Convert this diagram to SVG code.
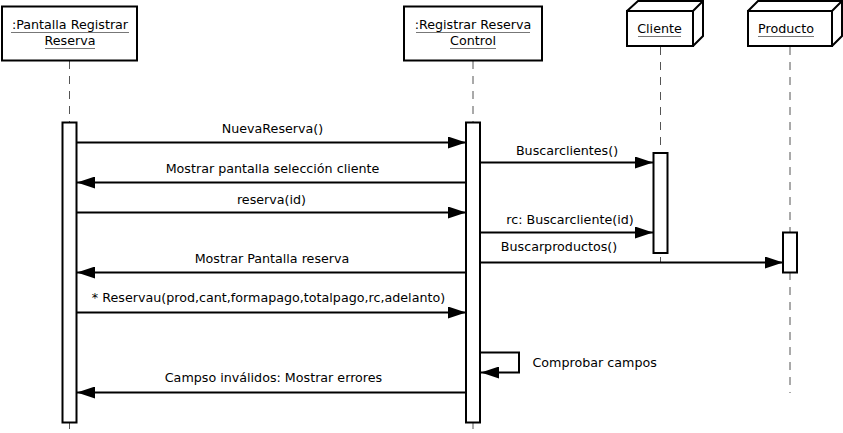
<svg xmlns="http://www.w3.org/2000/svg" width="843" height="433" viewBox="0 0 843 433">
<defs>
<marker id="arr" markerUnits="userSpaceOnUse" markerWidth="18" markerHeight="12" refX="18" refY="6" orient="auto">
<path d="M0,0 L18,6 L0,12 z" fill="#000"/>
</marker>
<style>
text{font-family:"DejaVu Sans","Liberation Sans",sans-serif;font-size:12.7px;fill:#000}
.c{text-anchor:middle}
.box{fill:#fff;stroke:#000;stroke-width:2}
.ul{stroke:#777;stroke-width:1}
.life{stroke:#555;stroke-width:1;stroke-dasharray:8 7;fill:none}
.act{fill:#fff;stroke:#000;stroke-width:2}
.msg{stroke:#000;stroke-width:2;fill:none;marker-end:url(#arr)}
</style>
</defs>
<rect width="843" height="433" fill="#fff"/>

<g id="lifelines">
<line class="life" x1="69.5" y1="61" x2="69.5" y2="433"/>
<line class="life" x1="473" y1="61" x2="473" y2="433"/>
<line class="life" x1="660.5" y1="47" x2="660.5" y2="262"/>
<line class="life" x1="790" y1="47" x2="790" y2="393"/>
</g>

<g id="pantalla">
<rect class="box" x="2" y="6.5" width="135" height="54"/>
<text class="c" x="70" y="29">:Pantalla Registrar</text>
<line class="ul" x1="11" y1="32.5" x2="129" y2="32.5"/>
<text class="c" x="70" y="45">Reserva</text>
<line class="ul" x1="45" y1="48.5" x2="95" y2="48.5"/>
<rect class="act" x="62.5" y="122.5" width="14" height="300"/>
</g>

<g id="control">
<rect class="box" x="404" y="6.5" width="138" height="54"/>
<text class="c" x="473" y="29">:Registrar Reserva</text>
<line class="ul" x1="416" y1="32.5" x2="530" y2="32.5"/>
<text class="c" x="473" y="45">Control</text>
<line class="ul" x1="450" y1="48.5" x2="496" y2="48.5"/>
<rect class="act" x="466" y="122.5" width="14" height="300"/>
</g>

<g id="cliente">
<path class="box" d="M627,11 L638,1 L703,1 L703,36 L693,46 M693,11 L703,1" fill="#fff"/>
<rect class="box" x="627" y="11" width="66" height="35"/>
<text class="c" x="659.5" y="32.5">Cliente</text>
<line class="ul" x1="638" y1="36.5" x2="681" y2="36.5"/>
<rect class="act" x="653.5" y="153" width="14" height="100"/>
</g>

<g id="producto">
<path class="box" d="M748,11 L758,1 L842,1 L842,36 L832,46 M832,11 L842,1" fill="#fff"/>
<rect class="box" x="748" y="11" width="84" height="35"/>
<text class="c" x="786" y="32.5">Producto</text>
<line class="ul" x1="758" y1="36.5" x2="814" y2="36.5"/>
<rect class="act" x="783" y="232.5" width="14" height="40"/>
</g>

<g id="connectors">
<line class="msg" x1="77" y1="142.5" x2="466" y2="142.5"/>
<text class="c" x="272.5" y="132.5">NuevaReserva()</text>

<line class="msg" x1="481" y1="162.5" x2="653" y2="162.5"/>
<text class="c" x="567" y="154.5">Buscarclientes()</text>

<line class="msg" x1="466" y1="182.5" x2="77" y2="182.5"/>
<text class="c" x="272.5" y="172.5">Mostrar pantalla selección cliente</text>

<line class="msg" x1="77" y1="212.5" x2="466" y2="212.5"/>
<text class="c" x="271.5" y="203.5">reserva(id)</text>

<line class="msg" x1="481" y1="232.5" x2="653" y2="232.5"/>
<text class="c" x="570" y="223.5">rc: Buscarcliente(id)</text>

<line class="msg" x1="481" y1="262.5" x2="783" y2="262.5"/>
<text class="c" x="559" y="250.5">Buscarproductos()</text>

<line class="msg" x1="466" y1="272.5" x2="77" y2="272.5"/>
<text class="c" x="272" y="262.5">Mostrar Pantalla reserva</text>

<line class="msg" x1="77" y1="312.5" x2="466" y2="312.5"/>
<text class="c" x="268.5" y="301.5">* Reservau(prod,cant,formapago,totalpago,rc,adelanto)</text>

<path class="msg" d="M481,352.5 H519 V372.5 H481"/>
<text x="532.5" y="366.5">Comprobar campos</text>

<line class="msg" x1="466" y1="392.5" x2="77" y2="392.5"/>
<text class="c" x="273.5" y="382">Campso inválidos: Mostrar errores</text>
</g>
</svg>
